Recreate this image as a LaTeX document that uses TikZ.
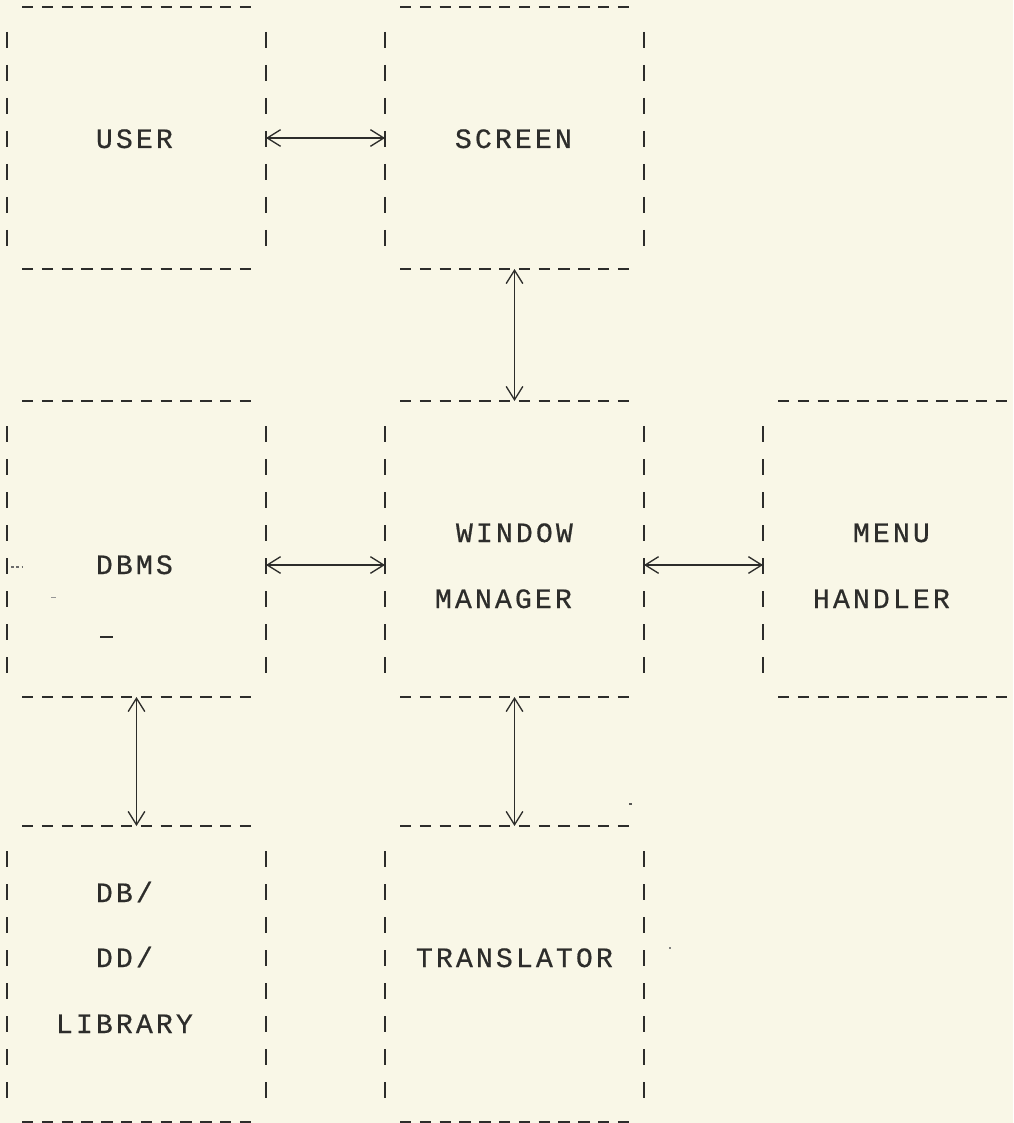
\documentclass[tikz,border=0pt]{standalone}
\usepackage{fontspec}
\setmonofont[FakeBold=0.6]{Liberation Mono}
\usetikzlibrary{arrows.meta,fit}
\definecolor{paper}{RGB}{249,247,231}
\definecolor{ink}{RGB}{45,45,43}
\newcommand\twtext[1]{\twloop#1\relax}
\def\twloop#1{\ifx#1\relax\else\makebox[15pt][l]{#1}\expandafter\twloop\fi}
\tikzset{
  hdash/.style={draw=ink, line width=2pt, dash pattern=on 8.6pt off 6.25pt},
  vdash/.style={draw=ink, line width=1.9pt, dash pattern=on 12pt off 12.75pt},
  lbl/.style={anchor=base west, inner sep=0pt, outer sep=0pt, text=ink,
              font=\ttfamily\fontsize{21}{24}\selectfont},
  conn/.style={draw=ink, line width=1pt,
               {Straight Barb[length=10pt,width=12.5pt]}-{Straight Barb[length=10pt,width=12.5pt]}},
  speck/.style={draw=ink, line width=1.6pt}
}
\newcommand\twbox[5]{%
  \node[inner sep=0pt, outer sep=0pt, fit={(#2,#3) (#4,#5)}] (#1) {};
  \draw[hdash] ({#2+15},#3) -- ({#4-14.7},#3);
  \draw[hdash] ({#2+15},#5) -- ({#4-14.7},#5);
  \draw[vdash] (#2,{#3+25}) -- (#2,{#5-23});
  \draw[vdash] (#4,{#3+25}) -- (#4,{#5-23});
}
\begin{document}
\begin{tikzpicture}[x=0.75pt,y=-0.75pt]
  \fill[paper] (0,0) rectangle (1013,1123);
  \useasboundingbox (0,0) rectangle (1013,1123);
  \clip (0,0) rectangle (1013,1123);

  % boxes
  \twbox{user}{7}{7}{266}{269}
  \twbox{screen}{385}{7}{644}{269}
  \twbox{dbms}{7}{401}{266}{697}
  \twbox{wm}{385}{401}{644}{697}
  \twbox{menu}{763}{401}{1022}{697}
  \twbox{lib}{7}{826}{266}{1122}
  \twbox{trans}{385}{826}{644}{1122}

  % labels
  \node[lbl] (tuser)   at (96,148)  {\twtext{USER}};
  \node[lbl] (tscreen) at (455,148) {\twtext{SCREEN}};
  \node[lbl] (tdbms)   at (96,574)  {\twtext{DBMS}};
  \node[lbl] (twin)    at (456,542) {\twtext{WINDOW}};
  \node[lbl] (tman)    at (435,608) {\twtext{MANAGER}};
  \node[lbl] (tmenu)   at (853,542) {\twtext{MENU}};
  \node[lbl] (thand)   at (813,608) {\twtext{HANDLER}};
  \node[lbl] (tdb)     at (96,902)  {\twtext{DB/}};
  \node[lbl] (tdd)     at (96,967)  {\twtext{DD/}};
  \node[lbl] (tlib)    at (56,1033) {\twtext{LIBRARY}};
  \node[lbl] (ttrans)  at (416,967) {\twtext{TRANSLATOR}};

  % connectors
  \draw[conn] (user.east) -- (screen.west);
  \draw[conn] (screen.south) -- (wm.north);
  \draw[conn] ([yshift=-12pt]dbms.east) -- ([yshift=-12pt]wm.west);
  \draw[conn] ([yshift=-12pt]wm.east) -- ([yshift=-12pt]menu.west);
  \draw[conn] (dbms.south) -- (lib.north);
  \draw[conn] (wm.south) -- (trans.north);

  % small typed marks
  \draw[speck] (100,637) -- (113,637);
  \draw[draw=ink!70, line width=0.8pt, dash pattern=on 2pt off 2pt] (11,567) -- (22,567);
  \draw[draw=ink!50, line width=0.6pt] (51,597) -- (56,597);
  \draw[draw=ink!80, line width=1.2pt] (629,804) -- (632,804);
  \draw[draw=ink!60, line width=1pt] (669,948) -- (671,948);
\end{tikzpicture}
\end{document}
